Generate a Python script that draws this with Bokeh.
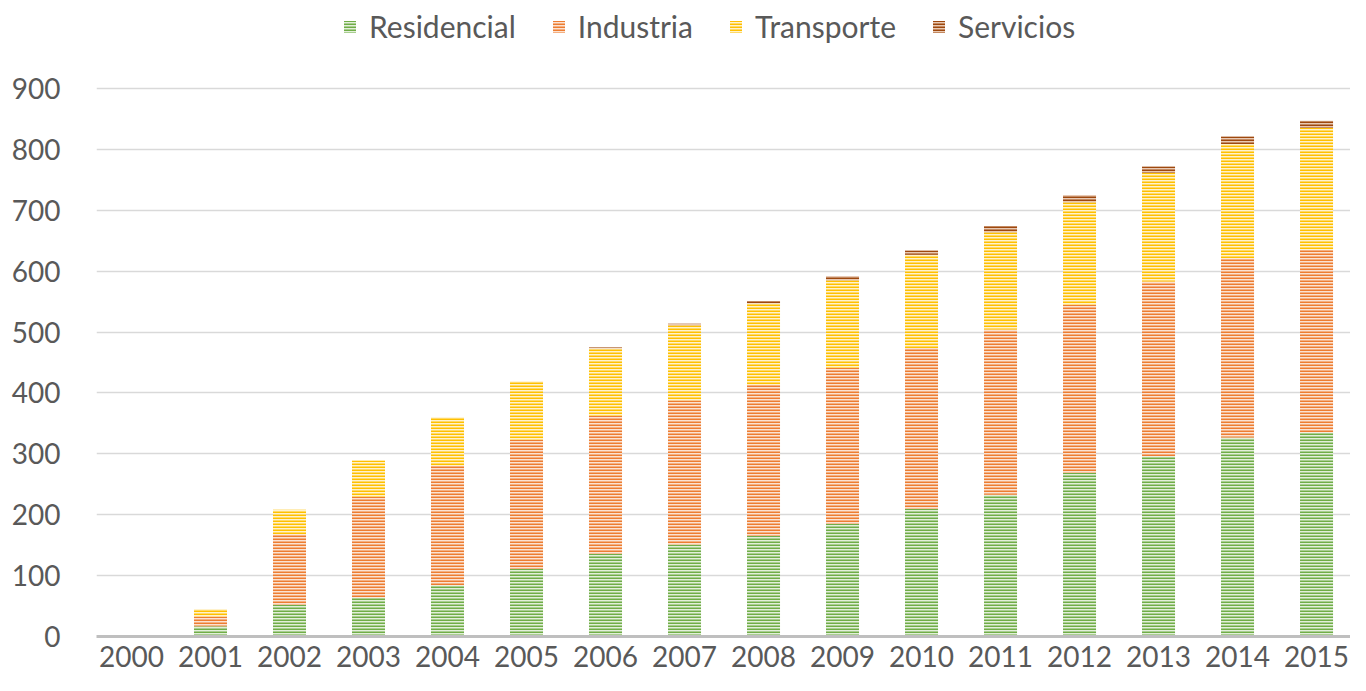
from bokeh.plotting import figure
from bokeh.models import (ColumnDataSource, Range1d, FixedTicker, Legend, LegendItem)
from bokeh.transform import stack
from bokeh.embed import file_html
from bokeh.resources import INLINE

# ---- data ----
years = [2000, 2001, 2002, 2003, 2004, 2005, 2006, 2007, 2008, 2009,
         2010, 2011, 2012, 2013, 2014, 2015]
year_labels = [str(y) for y in years]
residencial = [0, 17, 52, 64, 84, 111, 136, 151, 165, 185, 210, 233, 269, 296, 327, 335]
industria   = [0, 16, 116, 165, 196, 212, 226, 237, 248, 256, 264, 271, 276, 287, 294, 300]
transporte  = [0, 12, 40, 60, 80, 96, 111, 123, 134, 144, 153, 160, 168, 178, 188, 200]
servicios   = [0, 0, 0, 0, 0, 0, 1.5, 2.5, 4, 7, 7, 10, 12, 11, 12, 12]
series_names = ["Residencial", "Industria", "Transporte", "Servicios"]
y_ticks = [0, 100, 200, 300, 400, 500, 600, 700, 800, 900]

cols = ["residencial", "industria", "transporte", "servicios"]
source = ColumnDataSource(dict(x=years, residencial=residencial, industria=industria,
                               transporte=transporte, servicios=servicios))

hatch_colors = ["#70AD47", "#ED7D31", "#FFC000", "#9E480E"]
fill_colors = ["#E2EFDA", "#FBE2D2", "#FFF2CC", "#E8C9B4"]

FONT = "Lato"
TXT = "#595959"

p = figure(width=1350, height=675, output_backend="svg", toolbar_location=None,
           x_range=Range1d(1999.557, 2015.43), y_range=Range1d(0, 1044.5),
           min_border_left=96, min_border_right=0, min_border_top=0, min_border_bottom=39)
p.outline_line_color = None
p.background_fill_color = "white"
p.border_fill_color = "white"

renderers = []
for i, c in enumerate(cols):
    r = p.vbar(x="x", width=0.418, bottom=stack(*cols[:i]), top=stack(*cols[:i + 1]),
               source=source, fill_color=fill_colors[i], line_color=None,
               hatch_pattern="horizontal_line", hatch_color=hatch_colors[i],
               hatch_scale=3, hatch_weight=2)
    renderers.append(r)

# axes
p.xaxis.ticker = FixedTicker(ticks=years)
p.xaxis.major_label_overrides = {y: s for y, s in zip(years, year_labels)}
p.xaxis.axis_line_color = "#BFBFBF"
p.xaxis.axis_line_width = 3
p.xaxis.major_tick_line_color = None
p.xaxis.minor_tick_line_color = None
p.xaxis.major_label_standoff = 3
p.xaxis.major_label_text_line_height = 0.6
p.xaxis.major_label_text_font = FONT
p.xaxis.major_label_text_font_size = "28px"
p.xaxis.major_label_text_color = TXT

p.yaxis.ticker = FixedTicker(ticks=y_ticks)
p.yaxis.axis_line_color = None
p.yaxis.major_tick_line_color = None
p.yaxis.minor_tick_line_color = None
p.yaxis.major_label_standoff = 30
p.yaxis.major_label_text_font = FONT
p.yaxis.major_label_text_font_size = "28px"
p.yaxis.major_label_text_color = TXT

p.xgrid.grid_line_color = None
p.ygrid.grid_line_color = "#D9D9D9"
p.ygrid.grid_line_width = 1.5

legend = Legend(items=[LegendItem(label=n, renderers=[r]) for n, r in zip(series_names, renderers)],
                orientation="horizontal", location=(246, 592),
                glyph_width=15, glyph_height=15, label_standoff=12, spacing=35,
                padding=0, margin=0, border_line_color=None, background_fill_alpha=0,
                label_text_font=FONT, label_text_font_size="30px", label_text_color=TXT)
p.add_layout(legend, "center")

open("out.html", "w").write(file_html(p, INLINE))
